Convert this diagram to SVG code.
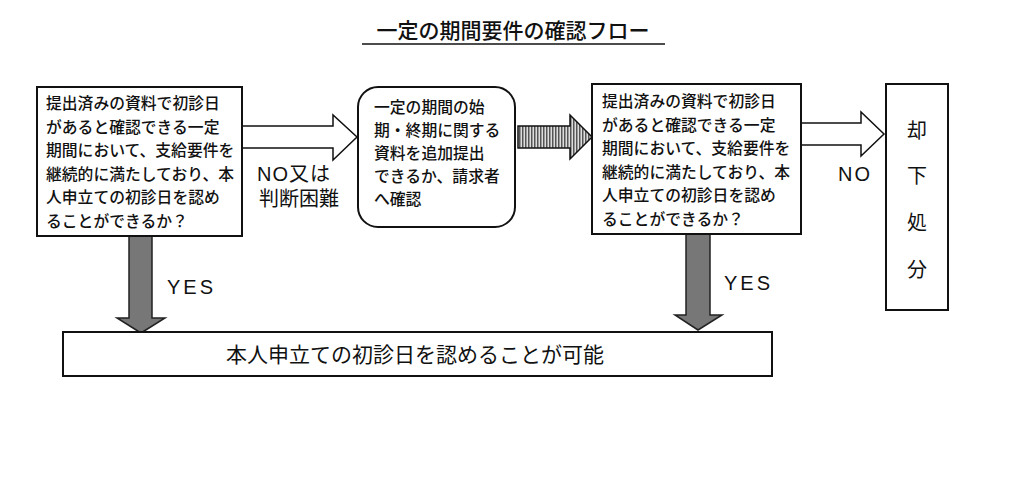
<svg xmlns="http://www.w3.org/2000/svg" width="1024" height="478" viewBox="0 0 1024 478">
<defs>
<style>
text{font-family:"Liberation Sans","Noto Sans CJK JP",sans-serif;fill:#111}
.b{fill:#fff;stroke:#111;stroke-width:2}
.t{font-size:15.8px;font-weight:500}
.l{font-size:20px}
.h{fill:#fff;stroke:#111;stroke-width:1.5}
.g{fill:#777;stroke:#222;stroke-width:1.5}
</style>
<pattern id="st" width="3" height="4" patternUnits="userSpaceOnUse"><rect width="3" height="4" fill="#ddd"/><rect width="1.5" height="4" fill="#555"/></pattern>
</defs>
<rect width="1024" height="478" fill="#fff"/>
<text x="513" y="38" font-size="21" font-weight="500" text-anchor="middle">一定の期間要件の確認フロー</text>
<line x1="362" y1="44" x2="665" y2="44" stroke="#111" stroke-width="1.5"/>
<g id="connectors">
<path class="h" d="M242,126 H333 V115 L357,137 L333,160 V148 H242 Z"/>
<path d="M518,126 H570 V115 L592,137 L570,159 V148 H518 Z" fill="url(#st)" stroke="#111" stroke-width="1.5"/>
<path class="h" d="M801,123 H861 V112 L884,134 L861,156 V145 H801 Z"/>
<path class="g" d="M129,236 V318 H117 L141,333 L165,318 H152 V236 Z"/>
<path class="g" d="M686,234 V315 H675 L698,330 L722,315 H710 V234 Z"/>
<text class="l" x="257" y="181" letter-spacing="1">NO又は</text>
<text class="l" x="259" y="206">判断困難</text>
<text class="l" x="838" y="181" letter-spacing="2">NO</text>
<text class="l" x="167" y="294" letter-spacing="3">YES</text>
<text class="l" x="724" y="290" letter-spacing="3">YES</text>
</g>
<g id="q1">
<rect class="b" x="37" y="87" width="205" height="149"/>
<text class="t" x="46" y="109">提出済みの資料で初診日</text>
<text class="t" x="46" y="133">があると確認できる一定</text>
<text class="t" x="46" y="156">期間において、支給要件を</text>
<text class="t" x="46" y="180">継続的に満たしており、本</text>
<text class="t" x="46" y="203">人申立ての初診日を認め</text>
<text class="t" x="46" y="227">ることができるか？</text>
</g>
<g id="ask">
<rect class="b" x="358" y="87" width="157" height="140" rx="20"/>
<text class="t" x="374" y="113">一定の期間の始</text>
<text class="t" x="374" y="136">期・終期に関する</text>
<text class="t" x="374" y="159">資料を追加提出</text>
<text class="t" x="374" y="182">できるか、請求者</text>
<text class="t" x="374" y="205">へ確認</text>
</g>
<g id="q2">
<rect class="b" x="592" y="84" width="209" height="150"/>
<text class="t" x="602" y="107">提出済みの資料で初診日</text>
<text class="t" x="602" y="131">があると確認できる一定</text>
<text class="t" x="602" y="154">期間において、支給要件を</text>
<text class="t" x="602" y="178">継続的に満たしており、本</text>
<text class="t" x="602" y="201">人申立ての初診日を認め</text>
<text class="t" x="602" y="225">ることができるか？</text>
</g>
<g id="reject">
<rect class="b" x="886" y="84" width="62" height="226"/>
<text class="l" x="917" y="138" text-anchor="middle">却</text>
<text class="l" x="917" y="183" text-anchor="middle">下</text>
<text class="l" x="917" y="230" text-anchor="middle">処</text>
<text class="l" x="917" y="277" text-anchor="middle">分</text>
</g>
<g id="ok">
<rect class="b" x="63" y="332" width="709" height="44"/>
<text x="415" y="362" font-size="21" text-anchor="middle">本人申立ての初診日を認めることが可能</text>
</g>
</svg>
